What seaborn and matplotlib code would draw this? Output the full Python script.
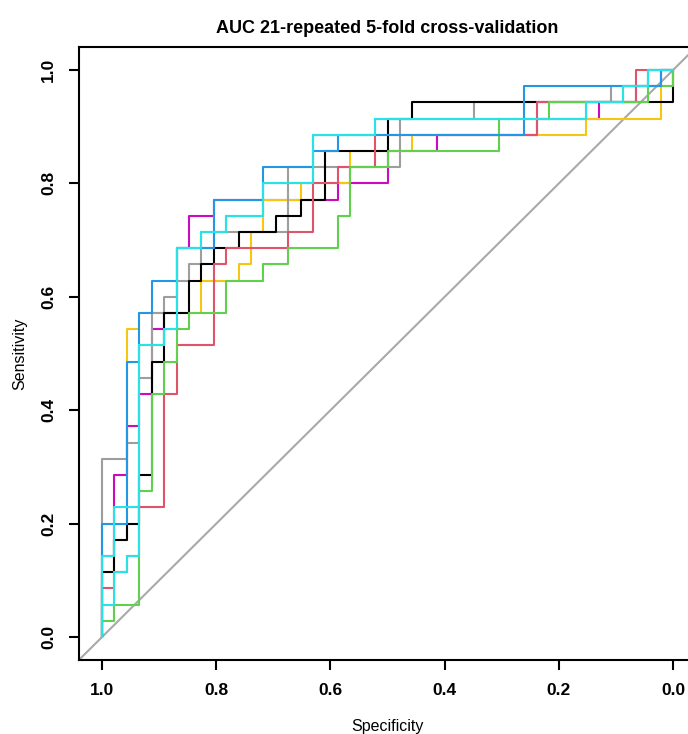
import numpy as np
import pandas as pd
import matplotlib
matplotlib.use("Agg")
import matplotlib.pyplot as plt
import seaborn as sns

# pooled ROC curves, one per repeat colour (R palette order)
# each list: cumulative true positives reached at each false-positive count 0..46
n_neg = 46
n_pos = 35

tp_magenta = [5, 10, 13, 15, 19, 20, 24, 26, 26, 27, 27, 27, 27, 27, 27, 27, 27, 27, 27, 28,
              28, 28, 28, 30, 30, 30, 30, 31, 31, 31, 31, 31, 31, 31, 31, 32, 32, 32, 32, 32,
              33, 33, 33, 34, 34, 35, 35]
tp_yellow = [4, 6, 19, 20, 20, 20, 20, 20, 22, 22, 22, 23, 25, 27, 27, 27, 28, 28, 28, 28,
             30, 30, 30, 30, 30, 31, 31, 31, 31, 31, 31, 31, 31, 31, 31, 31, 31, 31, 31, 32,
             32, 32, 32, 32, 32, 34, 35]
tp_gray = [11, 11, 12, 16, 20, 21, 22, 23, 24, 25, 25, 25, 25, 25, 25, 29, 29, 29, 29, 29,
           29, 29, 29, 29, 32, 32, 32, 32, 32, 32, 33, 33, 33, 33, 33, 33, 33, 33, 33, 33,
           33, 34, 34, 34, 35, 35, 35]
tp_black = [4, 6, 7, 10, 17, 20, 20, 22, 23, 24, 24, 25, 25, 25, 26, 26, 27, 27, 30, 30,
            30, 30, 30, 32, 32, 33, 33, 33, 33, 33, 33, 33, 33, 33, 33, 33, 33, 33, 33, 33,
            33, 33, 33, 33, 33, 33, 35]
tp_red = [3, 4, 5, 8, 8, 15, 18, 18, 18, 23, 24, 24, 24, 24, 24, 25, 25, 28, 28, 29,
          29, 29, 31, 31, 31, 31, 31, 31, 31, 31, 31, 31, 31, 31, 31, 33, 33, 33, 33, 33,
          33, 33, 33, 35, 35, 35, 35]
tp_green = [1, 2, 2, 9, 15, 17, 19, 20, 20, 20, 22, 22, 22, 23, 23, 24, 24, 24, 24, 26,
            29, 29, 29, 30, 30, 30, 30, 30, 30, 30, 30, 30, 32, 32, 32, 32, 33, 33, 33, 33,
            33, 33, 33, 33, 34, 34, 35]
tp_blue = [7, 7, 17, 20, 22, 22, 24, 24, 24, 27, 27, 27, 27, 29, 29, 29, 29, 30, 30, 31,
           31, 31, 31, 31, 31, 31, 31, 31, 31, 31, 31, 31, 31, 31, 34, 34, 34, 34, 34, 34,
           34, 34, 34, 34, 34, 35, 35]
tp_cyan_b = [2, 4, 5, 18, 18, 19, 24, 24, 25, 25, 26, 26, 26, 28, 28, 28, 28, 31, 31, 31,
             31, 31, 32, 32, 32, 32, 32, 32, 32, 32, 32, 32, 32, 32, 32, 32, 32, 32, 32, 33,
             33, 33, 34, 34, 35, 35, 35]
tp_cyan = [5, 8, 8, 18, 18, 19, 24, 24, 25, 25, 26, 26, 26, 28, 28, 28, 28, 31, 31, 31,
           31, 31, 32, 32, 32, 32, 32, 32, 32, 32, 32, 32, 32, 32, 32, 32, 32, 32, 32, 33,
           33, 33, 34, 34, 35, 35, 35]

curves = [
    (tp_magenta, "#CD0BBC"),
    (tp_yellow, "#F5C710"),
    (tp_gray, "#9E9E9E"),
    (tp_black, "#000000"),
    (tp_red, "#DF536B"),
    (tp_green, "#61D04F"),
    (tp_blue, "#2297E6"),
    (tp_cyan_b, "#28E2E5"),
    (tp_cyan, "#28E2E5"),
]


def roc_path(tp):
    # staircase vertices: up at each fp count, then across to the next one
    xs, ys = [0], [0]
    for k, j in enumerate(tp):
        xs.append(k)
        ys.append(j)
        if k < n_neg:
            xs.append(k + 1)
            ys.append(j)
    return pd.DataFrame({"spec": 1 - np.array(xs) / n_neg,
                         "sens": np.array(ys) / n_pos})


sns.set_theme(style="ticks")
plt.rcParams["font.family"] = ["Liberation Sans", "DejaVu Sans"]
plt.rcParams["text.color"] = "black"
plt.rcParams["axes.labelcolor"] = "black"

fig = plt.figure(figsize=(6.88, 7.34), dpi=100)
ax = fig.add_axes([0.1151, 0.1012, 0.8964, 0.8343])

for tp, col in curves:
    d = roc_path(tp)
    sns.lineplot(data=d, x="spec", y="sens", sort=False, estimator=None,
                 color=col, lw=1.5, ax=ax)

ax.axline((1, 0), (0, 1), color="#A9A9A9", lw=1.5, zorder=0)

ax.set_xlim(1.04, -0.04)
ax.set_ylim(-0.04, 1.04)
ticks = [1.0, 0.8, 0.6, 0.4, 0.2, 0.0]
ax.set_xticks(ticks)
ax.set_yticks(ticks)
ax.set_xticklabels([f"{t:.1f}" for t in ticks], fontweight="bold", fontsize=12.5)
ax.set_yticklabels([f"{t:.1f}" for t in ticks], fontweight="bold", fontsize=12.5,
                   rotation=90, va="center")
ax.tick_params(axis="both", direction="out", length=7.2, width=1.5, pad=9.5,
               colors="black")

for s in ax.spines.values():
    s.set_linewidth(1.5)
    s.set_color("black")

ax.set_xlabel("Specificity", fontsize=11.5, labelpad=15, color="black")
ax.set_ylabel("Sensitivity", fontsize=11.5, labelpad=10, color="black")
ax.set_title("AUC 21-repeated 5-fold cross-validation", fontweight="bold",
             fontsize=13, pad=10, color="black")

fig.savefig("out.png", dpi=100)
